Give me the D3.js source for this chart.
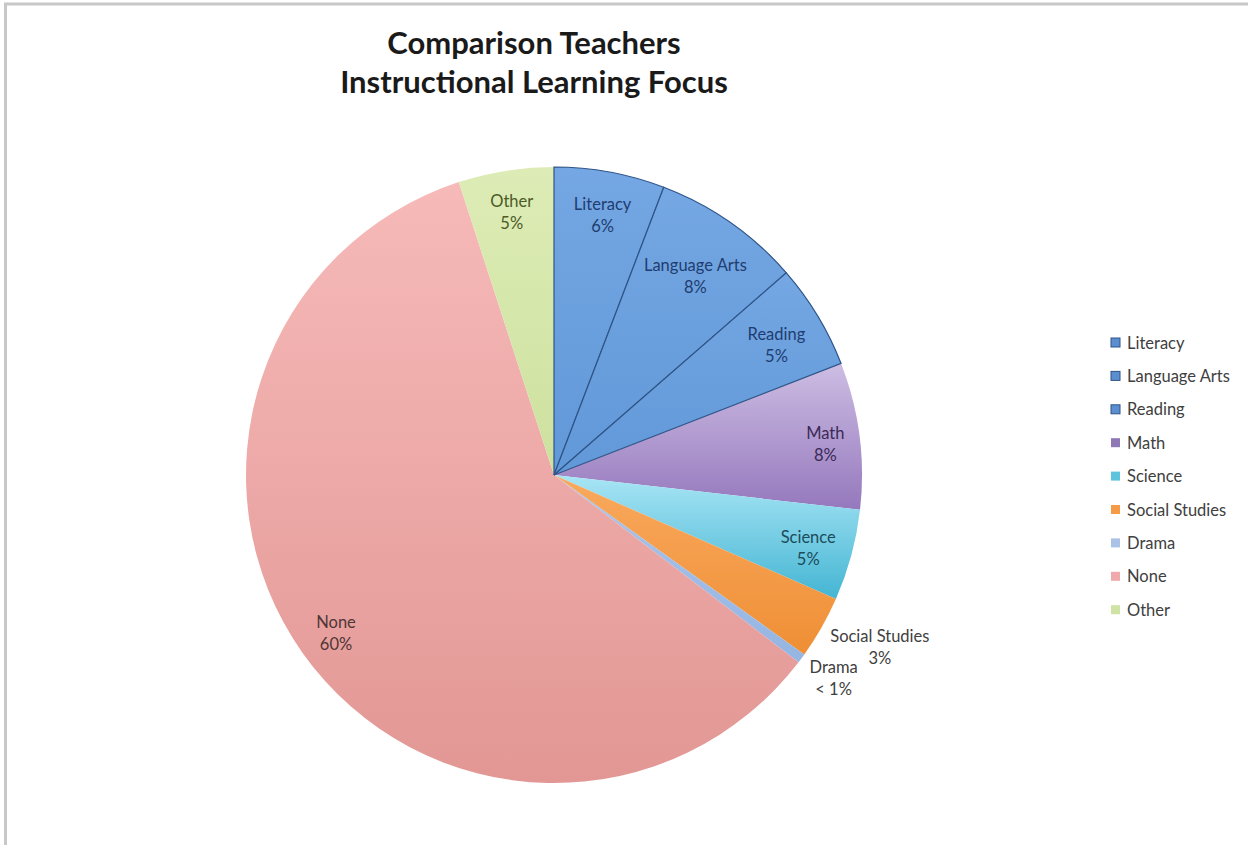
<!DOCTYPE html>
<html>
<head>
<meta charset="utf-8">
<script src="https://cdn.jsdelivr.net/npm/d3@7/dist/d3.min.js"></script>
<style>
  body { margin: 0; background: #fff; }
  svg { display: block; }
  text { font-family: Lato, "Open Sans", sans-serif; }
</style>
</head>
<body>
<div id="root"></div>
<script>
// chart data
var categories = ["Literacy", "Language Arts", "Reading", "Math", "Science", "Social Studies", "Drama", "None", "Other"];
var values = [5.8, 7.8, 5.5, 7.7, 4.8, 3.3, 0.5, 59.6, 5.0];
var pctLabels = ["6%", "8%", "5%", "8%", "5%", "3%", "< 1%", "60%", "5%"];
var titleLines = ["Comparison Teachers", "Instructional Learning Focus"];

// colours per slice: light top, darker bottom
var topColors = ["#74a7e3", "#74a7e3", "#74a7e3", "#cdbde3", "#a8e5f5", "#f9a95e", "#a9c4ea", "#f6bab9", "#ddecb6"];
var bottomColors = ["#6198d8", "#6198d8", "#6198d8", "#9578bd", "#44b5d3", "#ef8f35", "#95b5e2", "#e29794", "#cde19e"];
var swatchColors = ["#5b8fd0", "#5b8fd0", "#5b8fd0", "#8e78b6", "#5ec3dc", "#f59a46", "#a9c2e6", "#f0a9aa", "#cfe3a5"];
var labelColors = ["#1f3d70", "#1f3d70", "#1f3d70", "#3b2a58", "#1c4b5a", "#404040", "#404040", "#503636", "#4c5a28"];
var outside = [false, false, false, false, false, true, true, false, false];

var W = 1248, H = 845;
var cx = 554, cy = 475, R = 308;
var fontSize = 16.5, lineGap = 22;

var svg = d3.select("#root").append("svg")
    .attr("width", W)
    .attr("height", H);

// partial frame (top and left edges)
svg.append("line").attr("x1", 4).attr("x2", W).attr("y1", 4).attr("y2", 4)
    .attr("stroke", "#c8c8c8").attr("stroke-width", 3);
svg.append("line").attr("x1", 5.5).attr("x2", 5.5).attr("y1", 3).attr("y2", H)
    .attr("stroke", "#c8c8c8").attr("stroke-width", 3);

// title
svg.append("text")
    .attr("text-anchor", "middle")
    .attr("font-size", 31)
    .attr("font-weight", "bold")
    .attr("fill", "#1a1a1a")
    .selectAll("tspan")
    .data(titleLines)
    .join("tspan")
    .attr("x", 534)
    .attr("y", (d, i) => 54 + i * 39)
    .text(d => d);

var data = categories.map((c, i) => ({ name: c, value: values[i], label: pctLabels[i], i: i }));

var pie = d3.pie().sort(null).value(d => d.value);
var arcs = pie(data);

var arc = d3.arc().innerRadius(0).outerRadius(R);

var defs = svg.append("defs");
defs.selectAll("linearGradient")
    .data(data)
    .join("linearGradient")
    .attr("id", d => "grad" + d.i)
    .attr("x1", 0).attr("y1", 0).attr("x2", 0).attr("y2", 1)
    .selectAll("stop")
    .data(d => [[0, topColors[d.i]], [1, bottomColors[d.i]]])
    .join("stop")
    .attr("offset", d => d[0])
    .attr("stop-color", d => d[1]);

var g = svg.append("g").attr("transform", "translate(" + cx + "," + cy + ")");

// draw non-blue slices first, then blue ones so their dark borders stay on top
g.selectAll("path.slice")
    .data(arcs.slice().sort((a, b) => (a.index < 3) - (b.index < 3)))
    .join("path")
    .attr("class", "slice")
    .attr("d", arc)
    .attr("fill", d => "url(#grad" + d.index + ")")
    .attr("stroke", d => d.index < 3 ? "#2f5487" : "none")
    .attr("stroke-width", 1.2);

// slice labels
var labels = g.selectAll("text.lbl")
    .data(arcs)
    .join("text")
    .attr("class", "lbl")
    .attr("text-anchor", "middle")
    .attr("font-size", fontSize)
    .attr("fill", d => labelColors[d.index]);

labels.append("tspan").attr("class", "l1").attr("x", 0).text(d => d.data.name);
labels.append("tspan").attr("class", "l2").attr("x", 0).text(d => d.data.label);

labels.each(function(d) {
    var t = d3.select(this);
    var w = Math.max(t.select(".l1").node().getComputedTextLength(),
                     t.select(".l2").node().getComputedTextLength());
    var h = 44;
    var a = (d.startAngle + d.endAngle) / 2;
    var dx = Math.sin(a), dy = -Math.cos(a);
    var px, py;
    if (outside[d.index]) {
        // box's near corner sits just outside the rim
        px = dx * 318 + w / 2;
        py = dy * 318 + 9;
    } else {
        // push the box outward until its far corner touches the rim (minus a margin)
        var c0 = Math.sign(dx) * w / 2, c1 = Math.sign(dy) * h / 2;
        var M = R - 12;
        var b = dx * c0 + dy * c1;
        var r = -b + Math.sqrt(b * b - (c0 * c0 + c1 * c1 - M * M));
        px = dx * r;
        py = dy * r;
    }
    t.attr("transform", "translate(" + px + "," + py + ")");
    t.select(".l1").attr("y", outside[d.index] ? 0 : -1);
    t.select(".l2").attr("y", outside[d.index] ? lineGap : lineGap - 1);
});

// legend
var legend = svg.append("g").attr("transform", "translate(1111,343)");
var rows = legend.selectAll("g")
    .data(data)
    .join("g")
    .attr("transform", (d, i) => "translate(0," + (i * 33.4) + ")");

rows.append("rect")
    .attr("x", 0).attr("y", -5)
    .attr("width", 9).attr("height", 9)
    .attr("fill", d => swatchColors[d.i])
    .attr("stroke", d => d.i < 3 ? "#2f5487" : "none")
    .attr("stroke-width", 1);

rows.append("text")
    .attr("x", 16)
    .attr("y", 5.5)
    .attr("font-size", fontSize)
    .attr("fill", "#404040")
    .text(d => d.name);
</script>
</body>
</html>
